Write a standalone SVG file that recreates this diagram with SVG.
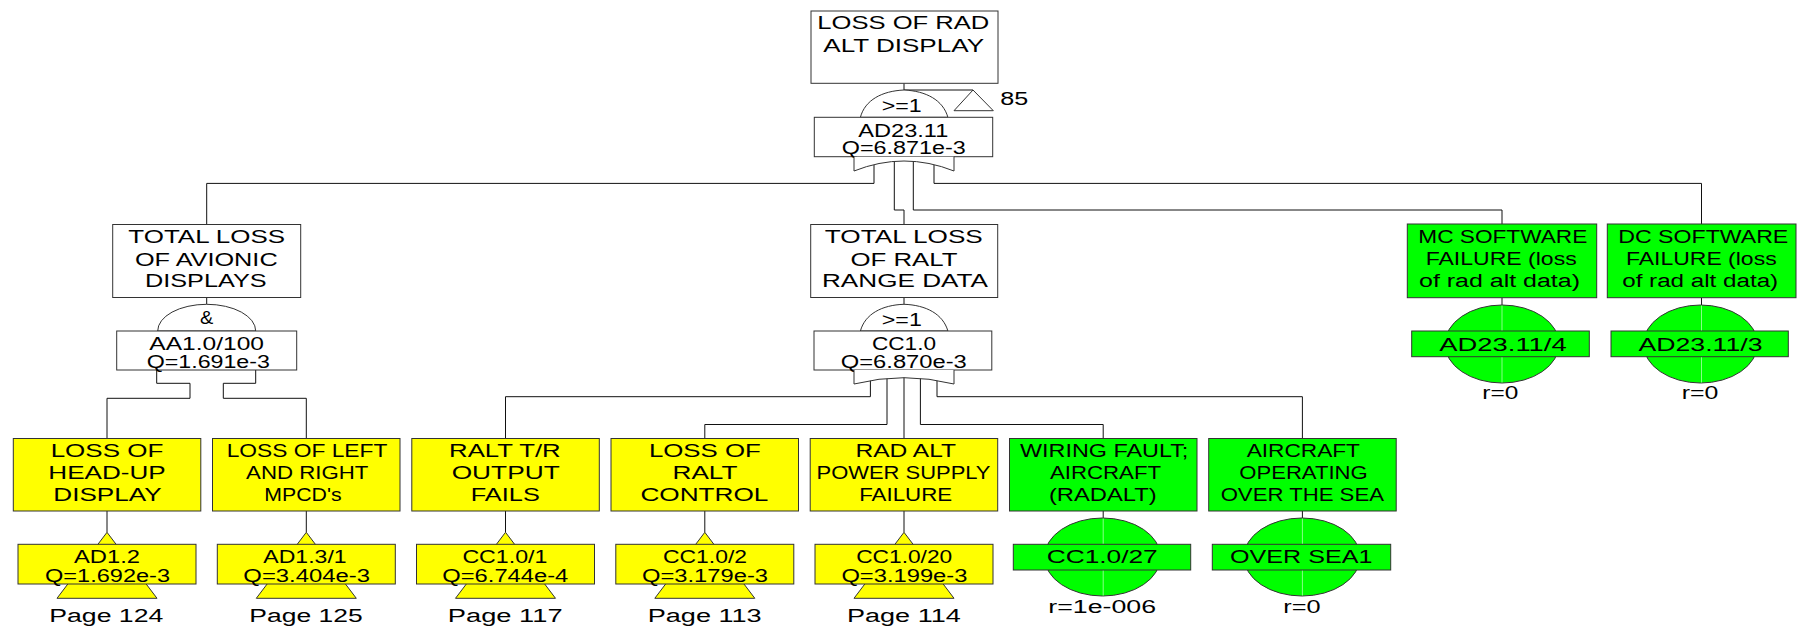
<svg xmlns="http://www.w3.org/2000/svg" width="1799" height="628" viewBox="0 0 1799 628">
<style>
.b{stroke:#333;stroke-width:1}
.w{fill:#fff}
.y{fill:#ff0}
.g{fill:#0f0}
.ln{fill:none;stroke:#111;stroke-width:1}
.fl{fill:none;stroke:#8f8;stroke-width:1}
.t{font-family:"Liberation Sans",Arial,sans-serif;font-size:18px;text-anchor:middle;fill:#000}
</style>
<rect width="1799" height="628" fill="#fff"/>

<g id="connectors">
<path class="ln" d="M904,83.3 V90 H973"/>
<path class="ln" d="M874,164.6 V183.4 H206.7 V224.5"/>
<path class="ln" d="M894.3,161.4 V210 H904 V224.5"/>
<path class="ln" d="M913.3,161.3 V210 H1502 V224"/>
<path class="ln" d="M934,164.6 V183.4 H1701.5 V224"/>
<path class="ln" d="M206.7,297.5 V304.3"/>
<path class="ln" d="M904,297.5 V304.3"/>
<path class="ln" d="M156.7,370 V383.3 H190 V398.3 H107 V438.5"/>
<path class="ln" d="M255.7,370 V383.3 H223.3 V398.3 H306.3 V438.5"/>
<path class="ln" d="M870.4,380.2 V396.7 H505.5 V438.5"/>
<path class="ln" d="M887,377.8 V424.5 H704.8 V438.5"/>
<path class="ln" d="M904,377 V438.5"/>
<path class="ln" d="M920.4,377.8 V424.5 H1103.2 V438.5"/>
<path class="ln" d="M937,380.2 V396.7 H1302.4 V438.5"/>
<path class="ln" d="M1502,297.7 V305"/>
<path class="ln" d="M1701.5,297.7 V305"/>
<path class="ln" d="M107,511 V532.3"/>
<path class="ln" d="M306.3,511 V532.3"/>
<path class="ln" d="M505.5,511 V532.3"/>
<path class="ln" d="M704.8,511 V532.3"/>
<path class="ln" d="M904,511 V532.3"/>
<path class="ln" d="M1103.2,511 V518"/>
<path class="ln" d="M1302.4,511 V518"/>
</g>

<g id="top">
<rect class="b w" x="811" y="11" width="187" height="72.3"/>
<text class="t" x="903.3" y="29.3" textLength="172" lengthAdjust="spacingAndGlyphs">LOSS OF RAD</text>
<text class="t" x="903.7" y="51.7" textLength="160.7" lengthAdjust="spacingAndGlyphs">ALT DISPLAY</text>
</g>

<g id="transfer85">
<path class="b w" d="M973,90 L993.3,110.7 L954,110.7 Z"/>
<text class="t" x="1014.2" y="105" textLength="28" lengthAdjust="spacingAndGlyphs">85</text>
</g>

<g id="gate-AD23.11">
<path class="b w" d="M860.4,117.3 C865,100 882,91 904,90 C926,91 943,100 947.9,117.3 Z"/>
<text class="t" x="901.7" y="111.7" textLength="40" lengthAdjust="spacingAndGlyphs">&gt;=1</text>
<rect class="b w" x="814.3" y="117.3" width="178.4" height="39.4"/>
<text class="t" x="903.3" y="136.7" textLength="90" lengthAdjust="spacingAndGlyphs">AD23.11</text>
<text class="t" x="903.8" y="154" textLength="124" lengthAdjust="spacingAndGlyphs">Q=6.871e-3</text>
<path class="b w" d="M854,156.7 V171 Q904,151 954,171 V156.7"/>
</g>

<g id="avionic">
<rect class="b w" x="112.7" y="224.5" width="188" height="73"/>
<text class="t" x="206.7" y="243.3" textLength="156.7" lengthAdjust="spacingAndGlyphs">TOTAL LOSS</text>
<text class="t" x="206.3" y="265.7" textLength="142.7" lengthAdjust="spacingAndGlyphs">OF AVIONIC</text>
<text class="t" x="205.8" y="287.3" textLength="121.7" lengthAdjust="spacingAndGlyphs">DISPLAYS</text>
</g>

<g id="gate-AA1.0">
<path class="b w" d="M157.7,331 A49,26.7 0 0 1 255.7,331 Z"/>
<text class="t" x="206.7" y="324" textLength="13.3" lengthAdjust="spacingAndGlyphs">&amp;</text>
<rect class="b w" x="116.7" y="331" width="180" height="39"/>
<text class="t" x="206.7" y="350" textLength="114.7" lengthAdjust="spacingAndGlyphs">AA1.0/100</text>
<text class="t" x="208.3" y="368" textLength="123.3" lengthAdjust="spacingAndGlyphs">Q=1.691e-3</text>
</g>

<g id="ralt-range">
<rect class="b w" x="810.7" y="224.5" width="187" height="73"/>
<text class="t" x="903.8" y="243.3" textLength="158" lengthAdjust="spacingAndGlyphs">TOTAL LOSS</text>
<text class="t" x="904" y="265.7" textLength="107" lengthAdjust="spacingAndGlyphs">OF RALT</text>
<text class="t" x="905" y="287.3" textLength="166" lengthAdjust="spacingAndGlyphs">RANGE DATA</text>
</g>

<g id="gate-CC1.0">
<path class="b w" d="M860.4,331 C865,314 882,305 904,304.3 C926,305 943,314 947.9,331 Z"/>
<text class="t" x="901.8" y="326" textLength="40" lengthAdjust="spacingAndGlyphs">&gt;=1</text>
<rect class="b w" x="814" y="331" width="177.8" height="39"/>
<text class="t" x="904" y="350" textLength="64" lengthAdjust="spacingAndGlyphs">CC1.0</text>
<text class="t" x="903.8" y="368" textLength="126" lengthAdjust="spacingAndGlyphs">Q=6.870e-3</text>
<path class="b w" d="M854,370 V384 Q904,371.4 954,384 V370"/>
</g>

<g id="mc-software">
<rect class="b g" x="1407.3" y="224" width="189.4" height="73.7"/>
<text class="t" x="1502.8" y="243.3" textLength="169" lengthAdjust="spacingAndGlyphs">MC SOFTWARE</text>
<text class="t" x="1501.2" y="265.3" textLength="151" lengthAdjust="spacingAndGlyphs">FAILURE (loss</text>
<text class="t" x="1499.5" y="287.3" textLength="161" lengthAdjust="spacingAndGlyphs">of rad alt data)</text>
<ellipse class="b g" cx="1502" cy="344" rx="57" ry="39"/>
<path class="fl" d="M1502,305.5 V382.5"/>
<rect class="b g" x="1411.7" y="331" width="177.6" height="25.7"/>
<text class="t" x="1503" y="350.7" textLength="127.3" lengthAdjust="spacingAndGlyphs">AD23.11/4</text>
<text class="t" x="1500.3" y="399.3" textLength="36" lengthAdjust="spacingAndGlyphs">r=0</text>
</g>

<g id="dc-software">
<rect class="b g" x="1607.3" y="224" width="188.7" height="73.7"/>
<text class="t" x="1703.3" y="243.3" textLength="170" lengthAdjust="spacingAndGlyphs">DC SOFTWARE</text>
<text class="t" x="1701.3" y="265.3" textLength="150.7" lengthAdjust="spacingAndGlyphs">FAILURE (loss</text>
<text class="t" x="1700.2" y="287.3" textLength="156" lengthAdjust="spacingAndGlyphs">of rad alt data)</text>
<ellipse class="b g" cx="1700.5" cy="344" rx="57" ry="39"/>
<path class="fl" d="M1701.5,305.5 V382.5"/>
<rect class="b g" x="1611" y="331" width="177.3" height="25.7"/>
<text class="t" x="1700.5" y="350.7" textLength="124" lengthAdjust="spacingAndGlyphs">AD23.11/3</text>
<text class="t" x="1700" y="399.3" textLength="36.6" lengthAdjust="spacingAndGlyphs">r=0</text>
</g>

<g id="head-up">
<rect class="b y" x="13.3" y="438.5" width="187.5" height="72.5"/>
<text class="t" x="107" y="456.5" textLength="112.7" lengthAdjust="spacingAndGlyphs">LOSS OF</text>
<text class="t" x="107" y="479" textLength="117.3" lengthAdjust="spacingAndGlyphs">HEAD-UP</text>
<text class="t" x="107.5" y="501" textLength="108.3" lengthAdjust="spacingAndGlyphs">DISPLAY</text>
<path class="b y" d="M107,532.3 L157,598.3 L57,598.3 Z"/>
<rect class="b y" x="18" y="544.3" width="178" height="39.7"/>
<text class="t" x="107" y="563.3" textLength="66" lengthAdjust="spacingAndGlyphs">AD1.2</text>
<text class="t" x="107.5" y="582.3" textLength="125" lengthAdjust="spacingAndGlyphs">Q=1.692e-3</text>
<text class="t" x="106.3" y="622" textLength="114" lengthAdjust="spacingAndGlyphs">Page 124</text>
</g>

<g id="mpcds">
<rect class="b y" x="212.5" y="438.5" width="187.5" height="72.5"/>
<text class="t" x="307" y="456.5" textLength="160.7" lengthAdjust="spacingAndGlyphs">LOSS OF LEFT</text>
<text class="t" x="307.2" y="479" textLength="122.3" lengthAdjust="spacingAndGlyphs">AND RIGHT</text>
<text class="t" x="303" y="501" textLength="77.3" lengthAdjust="spacingAndGlyphs">MPCD's</text>
<path class="b y" d="M306.3,532.3 L356.3,598.3 L256.3,598.3 Z"/>
<rect class="b y" x="217.3" y="544.3" width="178" height="39.7"/>
<text class="t" x="305" y="563.3" textLength="83.3" lengthAdjust="spacingAndGlyphs">AD1.3/1</text>
<text class="t" x="306.7" y="582.3" textLength="126.7" lengthAdjust="spacingAndGlyphs">Q=3.404e-3</text>
<text class="t" x="306" y="622" textLength="113.3" lengthAdjust="spacingAndGlyphs">Page 125</text>
</g>

<g id="ralt-tr">
<rect class="b y" x="411.8" y="438.5" width="187.5" height="72.5"/>
<text class="t" x="504.9" y="456.5" textLength="111.7" lengthAdjust="spacingAndGlyphs">RALT T/R</text>
<text class="t" x="505.7" y="479" textLength="108" lengthAdjust="spacingAndGlyphs">OUTPUT</text>
<text class="t" x="505.3" y="501" textLength="69" lengthAdjust="spacingAndGlyphs">FAILS</text>
<path class="b y" d="M505.5,532.3 L555.5,598.3 L455.5,598.3 Z"/>
<rect class="b y" x="416.5" y="544.3" width="178" height="39.7"/>
<text class="t" x="504.9" y="563.3" textLength="85" lengthAdjust="spacingAndGlyphs">CC1.0/1</text>
<text class="t" x="505.3" y="582.3" textLength="126" lengthAdjust="spacingAndGlyphs">Q=6.744e-4</text>
<text class="t" x="505.2" y="622" textLength="114.8" lengthAdjust="spacingAndGlyphs">Page 117</text>
</g>

<g id="ralt-control">
<rect class="b y" x="611" y="438.5" width="187.5" height="72.5"/>
<text class="t" x="704.9" y="456.5" textLength="112" lengthAdjust="spacingAndGlyphs">LOSS OF</text>
<text class="t" x="705" y="479" textLength="65" lengthAdjust="spacingAndGlyphs">RALT</text>
<text class="t" x="704.4" y="501" textLength="128" lengthAdjust="spacingAndGlyphs">CONTROL</text>
<path class="b y" d="M704.8,532.3 L754.8,598.3 L654.8,598.3 Z"/>
<rect class="b y" x="615.8" y="544.3" width="178" height="39.7"/>
<text class="t" x="705" y="563.3" textLength="84" lengthAdjust="spacingAndGlyphs">CC1.0/2</text>
<text class="t" x="705" y="582.3" textLength="126" lengthAdjust="spacingAndGlyphs">Q=3.179e-3</text>
<text class="t" x="704.7" y="622" textLength="114" lengthAdjust="spacingAndGlyphs">Page 113</text>
</g>

<g id="power-supply">
<rect class="b y" x="810.2" y="438.5" width="187.5" height="72.5"/>
<text class="t" x="905.7" y="456.5" textLength="100.6" lengthAdjust="spacingAndGlyphs">RAD ALT</text>
<text class="t" x="903.5" y="479" textLength="174" lengthAdjust="spacingAndGlyphs">POWER SUPPLY</text>
<text class="t" x="905.7" y="501" textLength="93" lengthAdjust="spacingAndGlyphs">FAILURE</text>
<path class="b y" d="M904,532.3 L954,598.3 L854,598.3 Z"/>
<rect class="b y" x="815" y="544.3" width="178" height="39.7"/>
<text class="t" x="904.2" y="563.3" textLength="96" lengthAdjust="spacingAndGlyphs">CC1.0/20</text>
<text class="t" x="904.4" y="582.3" textLength="126" lengthAdjust="spacingAndGlyphs">Q=3.199e-3</text>
<text class="t" x="903.9" y="622" textLength="113.7" lengthAdjust="spacingAndGlyphs">Page 114</text>
</g>

<g id="wiring-fault">
<rect class="b g" x="1009.5" y="438.5" width="187.5" height="72.5"/>
<text class="t" x="1104.2" y="456.5" textLength="168.3" lengthAdjust="spacingAndGlyphs">WIRING FAULT;</text>
<text class="t" x="1105.5" y="479" textLength="111" lengthAdjust="spacingAndGlyphs">AIRCRAFT</text>
<text class="t" x="1102.8" y="501" textLength="107.7" lengthAdjust="spacingAndGlyphs">(RADALT)</text>
<ellipse class="b g" cx="1102.5" cy="557" rx="58" ry="39"/>
<path class="fl" d="M1103.2,518.5 V595.5"/>
<rect class="b g" x="1013.3" y="544.3" width="177.4" height="25.7"/>
<text class="t" x="1102.2" y="563.3" textLength="111" lengthAdjust="spacingAndGlyphs">CC1.0/27</text>
<text class="t" x="1102.2" y="612.7" textLength="107.7" lengthAdjust="spacingAndGlyphs">r=1e-006</text>
</g>

<g id="over-sea">
<rect class="b g" x="1208.7" y="438.5" width="187.5" height="72.5"/>
<text class="t" x="1303.3" y="456.5" textLength="113.3" lengthAdjust="spacingAndGlyphs">AIRCRAFT</text>
<text class="t" x="1303.5" y="479" textLength="128.3" lengthAdjust="spacingAndGlyphs">OPERATING</text>
<text class="t" x="1302.3" y="501" textLength="163.3" lengthAdjust="spacingAndGlyphs">OVER THE SEA</text>
<ellipse class="b g" cx="1302" cy="557" rx="58" ry="39"/>
<path class="fl" d="M1302.4,518.5 V595.5"/>
<rect class="b g" x="1212.3" y="544.3" width="178.4" height="25.7"/>
<text class="t" x="1301.2" y="563.3" textLength="142.3" lengthAdjust="spacingAndGlyphs">OVER SEA1</text>
<text class="t" x="1302" y="612.7" textLength="37.3" lengthAdjust="spacingAndGlyphs">r=0</text>
</g>
</svg>
